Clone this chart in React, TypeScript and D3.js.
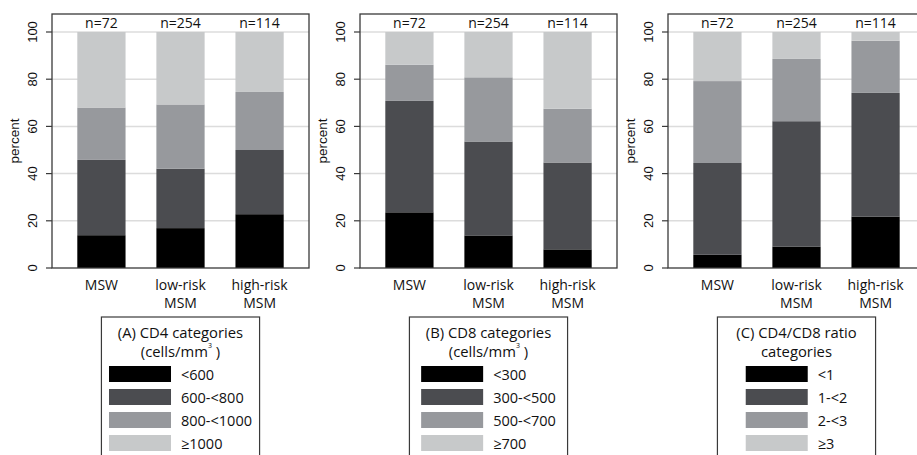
import React, { useMemo } from "react";
import * as d3 from "d3";

// Groups shown on every panel
const groupLabels = [["MSW"], ["low-risk", "MSM"], ["high-risk", "MSM"]];
const groupNames = ["MSW", "low-risk MSM", "high-risk MSM"];
const groupN = [72, 254, 114];

// Percent of each group in each category (bottom to top)
const cd4Pct = [
  [13.9, 31.9, 22.2, 32.0],
  [16.9, 25.2, 27.2, 30.7],
  [22.8, 27.2, 24.6, 25.4],
];
const cd8Pct = [
  [23.6, 47.2, 15.3, 13.9],
  [13.8, 39.8, 27.2, 19.2],
  [7.9, 36.8, 22.8, 32.5],
];
const ratioPct = [
  [5.6, 38.9, 34.7, 20.8],
  [9.1, 53.1, 26.4, 11.4],
  [21.8, 52.4, 22.1, 3.7],
];

const cd4Cats = ["<600", "600-<800", "800-<1000", "\u22651000"];
const cd8Cats = ["<300", "300-<500", "500-<700", "\u2265700"];
const ratioCats = ["<1", "1-<2", "2-<3", "\u22653"];

const yTicks = [0, 20, 40, 60, 80, 100];

const shades = ["#000000", "#4b4c50", "#97999d", "#c7c9ca"];

const W = 917;
const H = 455;
const plotTop = 14;
const plotBottom = 268;
const plotWidth = 257;
const panelLefts = [52, 360, 668];

const uiFont = "'Open Sans', sans-serif";
const axisFont = "'Liberation Sans', Arial, sans-serif";

type PanelSpec = {
  pct: number[][];
  cats: string[];
  title: { text: string; sup?: boolean }[];
};

const panels: PanelSpec[] = [
  {
    pct: cd4Pct,
    cats: cd4Cats,
    title: [{ text: "(A) CD4 categories" }, { text: "(cells/mm", sup: true }],
  },
  {
    pct: cd8Pct,
    cats: cd8Cats,
    title: [{ text: "(B) CD8 categories" }, { text: "(cells/mm", sup: true }],
  },
  {
    pct: ratioPct,
    cats: ratioCats,
    title: [{ text: "(C) CD4/CD8 ratio" }, { text: "categories" }],
  },
];

let measureCtx: CanvasRenderingContext2D | null = null;
function textWidth(s: string, font: string) {
  if (!measureCtx) measureCtx = document.createElement("canvas").getContext("2d");
  if (!measureCtx) return s.length * 7;
  measureCtx.font = font;
  return measureCtx.measureText(s).width;
}

function Panel({ spec, left }: { spec: PanelSpec; left: number }) {
  const x = d3
    .scaleBand<string>()
    .domain(groupNames)
    .range([left, left + plotWidth])
    .paddingInner(0.39)
    .paddingOuter(0.32);
  const y = d3.scaleLinear().domain([0, 100]).range([plotBottom, 32]);

  const rows = groupNames.map((g, i) => {
    const r: Record<string, any> = { group: g };
    spec.cats.forEach((c, j) => (r[c] = spec.pct[i][j]));
    return r;
  });
  const series = d3.stack().keys(spec.cats)(rows as any);

  // legend geometry
  const boxL = (x(groupNames[0]) as number) + x.bandwidth() / 2;
  const boxR = (x(groupNames[2]) as number) + x.bandwidth() / 2;
  const titlePx = 14.8;
  const labelPx = 14.5;
  const maxLab = Math.max(
    ...spec.cats.map((c) => textWidth(c, `${labelPx}px 'Open Sans'`))
  );
  const swW = 62;
  const swH = 16;
  const gap = 10;
  const groupW = swW + gap + maxLab;
  const swX = (boxL + boxR) / 2 - groupW / 2;
  const boxTop = 317;
  const boxCx = (boxL + boxR) / 2;

  return (
    <g>
      {/* gridlines */}
      {yTicks.slice(1).map((t) => (
        <line
          key={`g${t}`}
          x1={left}
          x2={left + plotWidth}
          y1={y(t)}
          y2={y(t)}
          stroke="#dcdcdc"
          strokeWidth={1.5}
        />
      ))}
      {/* stacked bars */}
      {series.map((s, si) => (
        <g key={`s${si}`} fill={shades[si]}>
          {s.map((d, di) => (
            <rect
              key={di}
              x={x(groupNames[di])}
              width={x.bandwidth()}
              y={y(d[1])}
              height={y(d[0]) - y(d[1])}
            />
          ))}
        </g>
      ))}
      {/* frame */}
      <rect
        x={left}
        y={plotTop}
        width={plotWidth}
        height={plotBottom - plotTop}
        fill="none"
        stroke="#3a3a3a"
        strokeWidth={1.3}
      />
      {/* y ticks */}
      {yTicks.map((t) => (
        <g key={`t${t}`}>
          <line x1={left - 6} x2={left} y1={y(t)} y2={y(t)} stroke="#3a3a3a" strokeWidth={1.2} />
          <text
            transform={`translate(${left - 15},${y(t)}) rotate(-90)`}
            textAnchor="middle"
            fontFamily={axisFont}
            fontSize={13}
            fill="#111"
          >
            {t}
          </text>
        </g>
      ))}
      <text
        transform={`translate(${left - 33.5},${(plotTop + plotBottom) / 2}) rotate(-90)`}
        textAnchor="middle"
        fontFamily={axisFont}
        fontSize={13.5}
        fill="#111"
      >
        percent
      </text>
      {/* n labels */}
      {groupNames.map((g, i) => (
        <text
          key={`n${g}`}
          x={(x(g) as number) + x.bandwidth() / 2}
          y={27.5}
          textAnchor="middle"
          fontFamily={uiFont}
          fontSize={14}
          fill="#111"
        >
          {`n=${groupN[i]}`}
        </text>
      ))}
      {/* x labels */}
      {groupNames.map((g, i) =>
        groupLabels[i].map((line, li) => (
          <text
            key={`x${g}${li}`}
            x={(x(g) as number) + x.bandwidth() / 2}
            y={290 + li * 17.5}
            textAnchor="middle"
            fontFamily={uiFont}
            fontSize={14}
            fill="#111"
          >
            {line}
          </text>
        ))
      )}
      {/* legend */}
      <rect
        x={boxL}
        y={boxTop}
        width={boxR - boxL}
        height={H + 20 - boxTop}
        fill="#fff"
        stroke="#3a3a3a"
        strokeWidth={1.2}
      />
      {spec.title.map((t, ti) => (
        <text
          key={`lt${ti}`}
          x={boxCx}
          y={337.5 + ti * 19.5}
          textAnchor="middle"
          fontFamily={uiFont}
          fontSize={titlePx}
          fill="#111"
        >
          {t.text}
          {t.sup ? (
            <>
              <tspan fontSize={7} dy={-9}>
                3
              </tspan>
              <tspan dy={9}>{" )"}</tspan>
            </>
          ) : null}
        </text>
      ))}
      {spec.cats.map((c, ci) => (
        <g key={`li${ci}`}>
          <rect x={swX} y={366 + ci * 23} width={swW} height={swH} fill={shades[ci]} />
          <text
            x={swX + swW + gap}
            y={366 + ci * 23 + 14}
            fontFamily={uiFont}
            fontSize={labelPx}
            fill="#111"
          >
            {c}
          </text>
        </g>
      ))}
    </g>
  );
}

export default function App() {
  const specs = useMemo(() => panels, []);
  return (
    <svg
      width={W}
      height={H}
      viewBox={`0 0 ${W} ${H}`}
      style={{ position: "absolute", left: 0, top: 0, background: "#fff" }}
    >
      <rect x={0} y={0} width={W} height={H} fill="#fff" />
      {specs.map((s, i) => (
        <Panel key={i} spec={s} left={panelLefts[i]} />
      ))}
    </svg>
  );
}
